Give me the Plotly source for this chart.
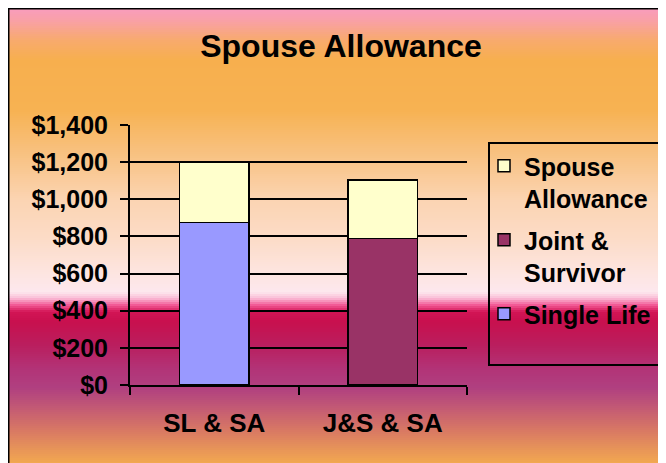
import numpy as np
import plotly.graph_objects as go

categories = ["SL & SA", "J&S & SA"]
single_life = [875, 0]
joint_survivor = [0, 790]
spouse_allowance = [325, 315]
y_tickvals = [0, 200, 400, 600, 800, 1000, 1200, 1400]
y_ticktext = ["$0", "$200", "$400", "$600", "$800", "$1,000", "$1,200", "$1,400"]

W, H = 666, 463
OFF = 8  # page offset of the figure
L, T = 122, 117
PW, PH = 337, 260
R, B = W - L - PW, H - T - PH

def px_x(px):
    return (px - OFF - L) / PW

def px_y(py):
    return (T + PH - (py - OFF)) / PH

# background gradient stops (page pixel row, rgb)
stops = [
    (7, (249, 156, 192)), (20, (249, 160, 168)), (40, (248, 170, 110)),
    (60, (247, 175, 78)), (110, (247, 178, 82)), (150, (248, 192, 125)),
    (200, (251, 212, 178)), (240, (252, 220, 200)), (270, (253, 228, 222)),
    (292, (253, 232, 238)), (298, (250, 190, 215)), (305, (242, 90, 150)),
    (312, (210, 20, 85)), (322, (200, 16, 78)), (345, (186, 30, 94)),
    (370, (178, 52, 120)), (388, (176, 64, 128)), (405, (192, 86, 118)),
    (430, (216, 120, 100)), (463, (242, 168, 80)),
]
sy = np.array([s[0] for s in stops], dtype=float)
sc = np.array([s[1] for s in stops], dtype=float)

shapes = []
step = 2
for y0 in range(6, 474, step):
    yc = y0 + step / 2
    col = [int(round(np.interp(yc, sy, sc[:, k]))) for k in range(3)]
    shapes.append(dict(
        type="rect", xref="paper", yref="paper", layer="below",
        x0=px_x(0), x1=px_x(700), y0=px_y(y0 + step + 0.5), y1=px_y(y0),
        line=dict(width=0), fillcolor=f"rgb({col[0]},{col[1]},{col[2]})",
    ))
# outer frame
shapes.append(dict(
    type="rect", xref="paper", yref="paper", layer="below",
    x0=px_x(OFF + 0.5), x1=px_x(800), y0=px_y(800), y1=px_y(OFF + 0.5),
    line=dict(color="black", width=2), fillcolor="rgba(0,0,0,0)",
))
# legend frame
shapes.append(dict(
    type="rect", xref="paper", yref="paper", layer="below",
    x0=px_x(489), x1=px_x(665), y0=px_y(365), y1=px_y(143),
    line=dict(color="black", width=2), fillcolor="rgba(0,0,0,0)",
))

font = "Arial, Liberation Sans, sans-serif"
line = dict(color="black", width=1.5)

fig = go.Figure()
fig.add_trace(go.Bar(x=categories, y=single_life, name="Single Life",
                     legendgroup="a", legendrank=3,
                     marker=dict(color="#9999FF", line=line)))
fig.add_trace(go.Bar(x=categories, y=joint_survivor, name="Joint &<br>Survivor",
                     legendgroup="b", legendrank=2,
                     marker=dict(color="#993366", line=line)))
fig.add_trace(go.Bar(x=categories, y=spouse_allowance, name="Spouse<br>Allowance",
                     legendgroup="c", legendrank=1,
                     marker=dict(color="#FFFFCC", line=line)))

fig.update_layout(
    width=W, height=H,
    margin=dict(l=L, r=R, t=T, b=B, pad=0),
    barmode="stack", bargap=0.585,
    paper_bgcolor="white", plot_bgcolor="rgba(0,0,0,0)",
    shapes=shapes,
    title=dict(text="<b>Spouse Allowance</b>", x=(341 - OFF) / W, xanchor="center",
               y=1 - (46 - OFF) / H, yanchor="middle",
               font=dict(family=font, size=32, color="black")),
    font=dict(family=font, color="black"),
    showlegend=True,
    legend=dict(
        x=px_x(484), y=px_y(143), xanchor="left", yanchor="top",
        borderwidth=0, bgcolor="rgba(0,0,0,0)", valign="top",
        traceorder="grouped", tracegroupgap=6,
        font=dict(family=font, size=25, color="black", weight="bold"),
    ),
    xaxis=dict(
        showline=True, linecolor="black", linewidth=2,
        ticks="outside", ticklen=8, tickwidth=2, tickcolor="black",
        tickson="boundaries", showgrid=False, ticklabelstandoff=14,
        tickfont=dict(family=font, size=26, color="black", weight="bold"),
    ),
    yaxis=dict(
        range=[0, 1400], tickvals=y_tickvals, ticktext=y_ticktext,
        showline=True, linecolor="black", linewidth=2,
        ticks="outside", ticklen=8, tickwidth=2, tickcolor="black",
        showgrid=True, gridcolor="black", gridwidth=1.5, zeroline=False,
        ticklabelstandoff=7,
        tickfont=dict(family=font, size=25, color="black", weight="bold"),
    ),
)

fig.write_html("out.html")
